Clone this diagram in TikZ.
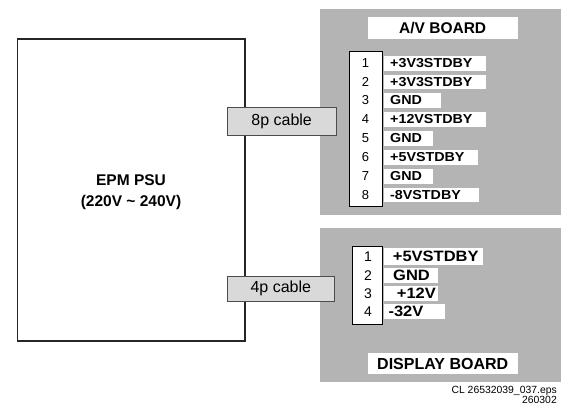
\documentclass[tikz,border=0pt]{standalone}
\usepackage{fontspec}
\setmainfont{Liberation Sans}
\newfontfamily\widef[FakeStretch=1.1]{Liberation Sans}
\definecolor{boardgray}{HTML}{B4B4B4}
\definecolor{cablegray}{HTML}{D9D9D9}
\newcommand\boxat[6]{%
  \pgfmathsetmacro\bw{#5-#3}\pgfmathsetmacro\bh{#6-#4}%
  \node[#1, minimum width=\bw pt, minimum height=\bh pt] (#2) at (#3,#4) {};}
\begin{document}
\begin{tikzpicture}[x=1pt,y=-1pt,
  base/.style={inner sep=0, outer sep=0, anchor=north west},
  board/.style={base, fill=boardgray, draw=none},
  whitebox/.style={base, fill=white, draw=none},
  pinbox/.style={base, fill=white, draw=black, line width=0.8pt},
  cable/.style={base, fill=cablegray, draw=black!70, line width=0.8pt},
  psu/.style={base, fill=white, draw=black!85, line width=1.2pt},
  pinnum/.style={inner sep=0, anchor=center, font=\fontsize{13}{15}\selectfont},
  pinlab/.style={inner sep=0, anchor=west, font=\fontsize{13}{15}\selectfont\widef\bfseries},
  dpinnum/.style={inner sep=0, anchor=center, font=\fontsize{14}{16}\selectfont},
  dpinlab/.style={inner sep=0, anchor=west, font=\fontsize{15}{17}\selectfont\widef\bfseries},
  title/.style={inner sep=0, anchor=center, font=\fontsize{15.5}{18}\selectfont\bfseries},
  cabletext/.style={inner sep=0, anchor=center, font=\fontsize{16}{18}\selectfont},
  caption/.style={inner sep=0, anchor=east, font=\fontsize{10.4}{12}\selectfont}
]
\useasboundingbox (0,0) rectangle (567,405);
% PSU
\boxat{psu}{psu}{17.7}{39}{245}{341}
\node[align=center, inner sep=0, font=\fontsize{15.5}{20.4}\selectfont\bfseries] (psutext) at (131,192) {EPM PSU\\(220V \textasciitilde{} 240V)};
% A/V board
\boxat{board}{av}{320}{9.3}{560.7}{215}
\boxat{whitebox}{avtitle}{367.7}{16.7}{517.7}{39}
\node[title] (avtitletext) at (avtitle.center) {A/V BOARD};
\boxat{pinbox}{avpins}{349.3}{51}{382.3}{206.7}
\foreach \i/\yc/\r/\t in {1/63.3/485.7/+3V3STDBY, 2/81.8/485.7/+3V3STDBY, 3/100.5/440.7/GND, 4/119.5/485.7/+12VSTDBY, 5/138.3/433.3/GND, 6/157.2/478.3/+5VSTDBY, 7/176.2/433.3/GND, 8/195/479/-8VSTDBY}{
  \pgfmathsetmacro\ya{\yc-7.3}\pgfmathsetmacro\yb{\yc+7.3}
  \boxat{whitebox}{avlab\i}{384}{\ya}{\r}{\yb}
  \node[pinnum] (avnum\i) at (365.5,\yc) {\i};
  \node[pinlab] (avtxt\i) at (390,\yc) {\t};
}
% Display board
\boxat{board}{disp}{320}{228.3}{560.7}{382.3}
\boxat{whitebox}{disptitle}{367.7}{353.3}{517.7}{374}
\node[title, font=\fontsize{16}{18}\selectfont\bfseries] (disptitletext) at (disptitle.center) {DISPLAY BOARD};
\boxat{pinbox}{disppins}{352.7}{246}{382.3}{324.3}
\foreach \i/\ya/\yb/\r/\tx/\t in {1/248.3/265/483.3/392.7/+5VSTDBY, 2/267.7/283.3/438.3/393/GND, 3/286/301/438.3/396.7/+12V, 4/304.3/319.3/445/388.3/-32V}{
  \pgfmathsetmacro\yc{(\ya+\yb)/2}
  \boxat{whitebox}{dlab\i}{384}{\ya}{\r}{\yb}
  \node[dpinnum] (dnum\i) at (368,\yc) {\i};
  \node[dpinlab] (dtxt\i) at (\tx,\yc) {\t};
}
% cables
\boxat{cable}{cable8}{227.3}{107.7}{336}{135}
\node[cabletext] (cable8text) at (cable8.center) {8p cable};
\boxat{cable}{cable4}{227.3}{276}{334.3}{301.7}
\node[cabletext] (cable4text) at (cable4.center) {4p cable};
% caption
\node[caption] (cap1) at (557,390.5) {CL 26532039\_037.eps};
\node[caption] (cap2) at (557,399.8) {260302};
\end{tikzpicture}
\end{document}
